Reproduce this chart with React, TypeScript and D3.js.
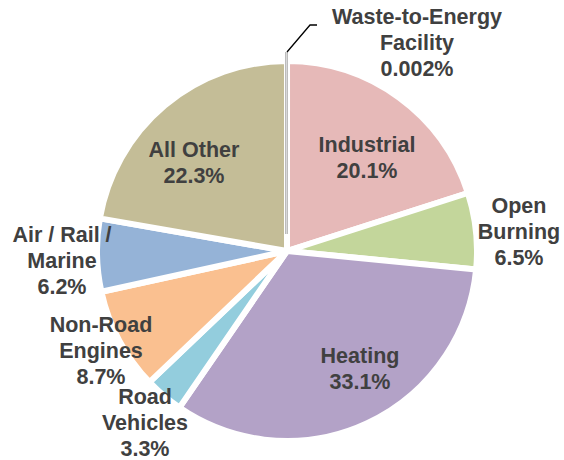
import React, { useEffect, useRef } from "react";
import * as d3 from "d3";

// slices, clockwise from 12 o'clock
const categories = [
  "Waste-to-Energy Facility",
  "Industrial",
  "Open Burning",
  "Heating",
  "Road Vehicles",
  "Non-Road Engines",
  "Air / Rail / Marine",
  "All Other",
];
const values = [0.002, 20.1, 6.5, 33.1, 3.3, 8.7, 6.2, 22.3];
const pctLabels = ["0.002%", "20.1%", "6.5%", "33.1%", "3.3%", "8.7%", "6.2%", "22.3%"];
const labelLines = [
  ["Waste-to-Energy", "Facility"],
  ["Industrial"],
  ["Open", "Burning"],
  ["Heating"],
  ["Road", "Vehicles"],
  ["Non-Road", "Engines"],
  ["Air / Rail /", "Marine"],
  ["All Other"],
];

const colors = ["#ffffff", "#E6B9B8", "#C3D69B", "#B3A2C7", "#93CDDD", "#FAC090", "#95B3D7", "#C4BD97"];
// label anchor (centre x, first baseline)
const labelPos: [number, number][] = [
  [417, 24],
  [367, 152],
  [519, 213],
  [360, 363],
  [145, 404],
  [101, 332],
  [62, 242],
  [194, 157],
];

const W = 564;
const H = 460;

export default function App() {
  const ref = useRef<SVGSVGElement>(null);

  useEffect(() => {
    const svg = d3.select(ref.current);
    svg.selectAll("*").remove();

    const cx = 287;
    const cy = 251;
    const r = 190;
    const explode = 12;

    const pie = d3.pie<number>().sort(null).value((d) => d);
    const arcs = pie(values);
    const arc = d3.arc<d3.PieArcDatum<number>>().innerRadius(0).outerRadius(r);

    const g = svg.append("g").attr("transform", `translate(${cx},${cy})`);

    g.selectAll("path.slice")
      .data(arcs)
      .enter()
      .append("path")
      .attr("class", "slice")
      .attr("d", arc)
      .attr("transform", (d, i) => {
        if (i !== 0) return null;
        const a = (d.startAngle + d.endAngle) / 2;
        return `translate(${Math.sin(a) * explode},${-Math.cos(a) * explode})`;
      })
      .attr("fill", (d, i) => colors[i])
      .attr("stroke", "#fff")
      .attr("stroke-width", 6)
      .attr("stroke-linejoin", "round");

    // the tiny slice only shows as a thin grey sliver
    const tiny = arcs[0];
    const ta = (tiny.startAngle + tiny.endAngle) / 2;
    const p0 = [Math.sin(ta) * (explode + 5), -Math.cos(ta) * (explode + 5)];
    const p1 = [Math.sin(ta) * (r - 3 + explode), -Math.cos(ta) * (r - 3 + explode)];
    g.append("line")
      .attr("x1", p0[0] - 0.5)
      .attr("y1", p0[1])
      .attr("x2", p1[0] - 0.5)
      .attr("y2", p1[1])
      .attr("stroke", "#a6a6a6")
      .attr("stroke-width", 2.5);
    g.append("line")
      .attr("x1", p0[0] - 0.5)
      .attr("y1", p0[1])
      .attr("x2", p1[0] - 0.5)
      .attr("y2", p1[1])
      .attr("stroke", "#e6e6e6")
      .attr("stroke-width", 0.8);

    // leader line to the outside label
    g.append("polyline")
      .attr("points", `${p1[0]},${p1[1]} ${p1[0] + 23},${p1[1] - 27} ${p1[0] + 30},${p1[1] - 27}`)
      .attr("fill", "none")
      .attr("stroke", "#000")
      .attr("stroke-width", 1.3);

    const labels = svg
      .selectAll("text.lbl")
      .data(categories)
      .enter()
      .append("text")
      .attr("class", "lbl")
      .attr("text-anchor", "middle")
      .attr("font-family", "'Liberation Sans', Arial, sans-serif")
      .attr("font-weight", "bold")
      .attr("font-size", 21.5)
      .attr("fill", "#404040");

    labels.each(function (d, i) {
      const t = d3.select(this);
      const [x, y] = labelPos[i];
      const lines = [...labelLines[i], pctLabels[i]];
      lines.forEach((s, j) => {
        t.append("tspan").attr("x", x).attr("y", y + j * 26).text(s);
      });
    });
  }, []);

  return (
    <svg
      ref={ref}
      width={W}
      height={H}
      style={{ position: "absolute", left: 0, top: 0, background: "#fff" }}
    />
  );
}
